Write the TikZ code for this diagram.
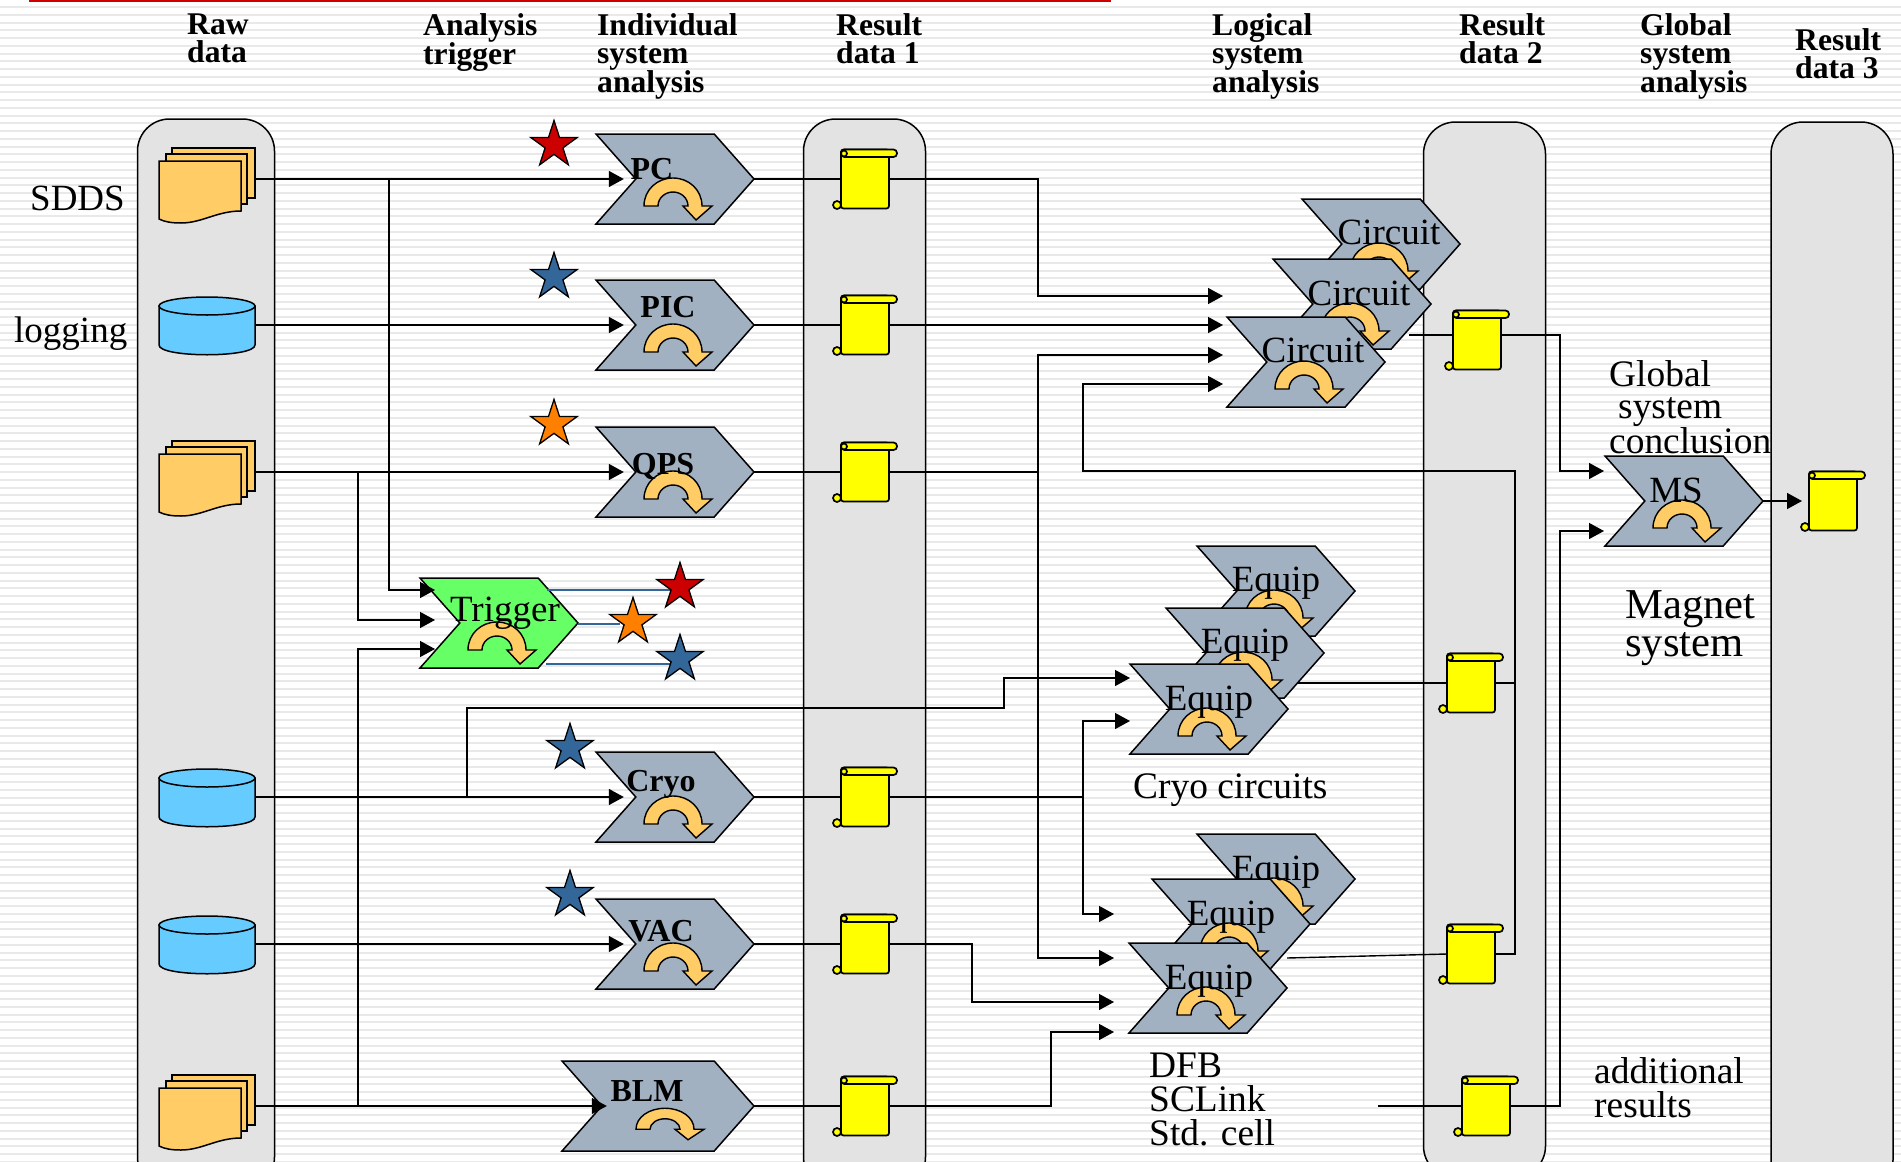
\documentclass[tikz,border=0pt]{standalone}
\usepackage{fontspec}
\setmainfont{Liberation Serif}
\usetikzlibrary{arrows.meta, shapes.geometric, shapes.symbols}
\definecolor{colgray}{HTML}{E3E3E3}
\definecolor{stripegray}{HTML}{E9E9E9}
\definecolor{chevgray}{HTML}{A2B1C1}
\definecolor{mygreen}{HTML}{66FF66}
\definecolor{myorange}{HTML}{FFCC66}
\definecolor{myblue}{HTML}{66CCFF}
\definecolor{myyellow}{HTML}{FFFF00}
\definecolor{starred}{HTML}{CC0000}
\definecolor{starblue}{HTML}{336699}
\definecolor{starorange}{HTML}{FF8000}
\tikzset{
	colbox/.style={
			rectangle,
			draw=black,
			line width=1.5pt,
			fill=colgray,
			rounded corners=32pt,
			minimum width=122pt,
			inner sep=0pt
		},
	chevnode/.style={
			signal,
			signal from=west,
			signal to=east,
			signal pointer angle=97,
			draw=black,
			line width=1.5pt,
			fill=chevgray,
			minimum width=158pt,
			minimum height=90pt,
			inner sep=0pt,
			outer sep=0pt
		},
	trignode/.style={
			chevnode,
			fill=mygreen
		},
	blmnode/.style={
			chevnode,
			minimum width=192pt
		},
	turnarrow/.style={
			draw=black,
			line width=1.4pt,
			fill=myorange
		},
	filebox/.style={
			rectangle,
			minimum width=96pt,
			minimum height=60pt,
			inner sep=0pt,
			outer sep=0pt
		},
	sheet/.style={
			draw=black,
			line width=1.5pt,
			fill=myorange
		},
	dbfill/.style={
			draw=black,
			line width=1.5pt,
			fill=myblue
		},
	scrollnode/.style={
			rectangle,
			draw=black,
			line width=1.7pt,
			fill=myyellow,
			rounded corners=2.5pt,
			minimum width=48pt,
			minimum height=59pt,
			inner sep=0pt,
			outer sep=0pt
		},
	rollpart/.style={
			draw=black,
			line width=1.7pt,
			fill=myyellow
		},
	wire/.style={
			draw=black,
			line width=1.4pt
		},
	conn/.style={
			wire,
			-{Triangle[length=15pt,width=16pt]}
		},
	bluewire/.style={
			draw=starblue,
			line width=1.4pt
		},
	starnode/.style={
			star,
			star points=5,
			star point ratio=2.618,
			draw=black,
			line width=1.3pt,
			minimum size=49pt,
			inner sep=0pt,
			outer sep=0pt
		},
	headtext/.style={
			anchor=north west,
			align=left,
			inner sep=0pt,
			font=\fontsize{31.6}{28}\selectfont\bfseries
		},
	plaintext/.style={
			anchor=north west,
			align=left,
			inner sep=0pt,
			font=\fontsize{37.4}{34}\selectfont
		},
	sidetext/.style={
			anchor=base west,
			inner sep=0pt,
			font=\fontsize{37}{33.5}\selectfont
		},
	magtext/.style={
			anchor=north west,
			align=left,
			inner sep=0pt,
			font=\fontsize{42.6}{38}\selectfont
		},
	boldlabel/.style={
			anchor=base,
			inner sep=0pt,
			font=\fontsize{32}{32}\selectfont\bfseries
		},
	plainlabel/.style={
			anchor=base,
			inner sep=0pt,
			font=\fontsize{37}{37}\selectfont
		},
	uturn/.pic={
			\draw[turnarrow] (-31,27) .. controls (-31,11) and (-18,-1) .. (-2,-1)
				.. controls (14,-1) and (27,11) .. (27,27) -- (37,27) -- (21,41) -- (8,27) -- (13,27)
				.. controls (13,19) and (6,13) .. (-2,13)
				.. controls (-10,13) and (-17,19) .. (-17,27) -- cycle;
		},
	sheets/.pic={
			\draw[sheet] (-35,-31) rectangle (48,19);
			\draw[sheet] (-41,-25) rectangle (40,25);
			\draw[sheet] (-48,-18) -- (34,-18) -- (34,32) .. controls (10,32) and (-5,44) .. (-26,44)
				.. controls (-35,44) and (-42,43) .. (-48,40) -- cycle;
		},
	barrel/.pic={
			\draw[dbfill] (-48,-19) -- (-48,20) .. controls (-48,33) and (48,33) .. (48,20) -- (48,-19) -- cycle;
			\draw[dbfill] (0,-19) ellipse (48 and 9);
		},
	rolls/.pic={
			\draw[rollpart, rounded corners=3.5pt] (-24,-29.5) rectangle (32,-22);
			\draw[rollpart] (-21,-25.5) circle (3);
			\draw[rollpart] (-28,26) circle (4);
		}
}
\NewDocumentCommand{\chevron}{O{chevnode} m m m m m}{%
	\node[#1] (#2) at (#3) {};
	\pic at (#2.center) {uturn};
	\node[#5] (#2text) at (#4) {#6};
}
\NewDocumentCommand{\filestack}{m m}{%
	\node[filebox] (#1) at (#2) {};
	\pic at (#1.center) {sheets};
}
\NewDocumentCommand{\database}{m m}{%
	\node[filebox] (#1) at (#2) {};
	\pic at (#1.center) {barrel};
}
\NewDocumentCommand{\scroll}{m m}{%
	\node[scrollnode] (#1) at (#2) {};
	\pic at (#1.center) {rolls};
}

\begin{document}
\begin{tikzpicture}[x=1pt, y=-1pt]
\useasboundingbox (0,0) rectangle (1901,1162);
\clip (0,0) rectangle (1901,1162);
\fill[white] (0,0) rectangle (1901,1162);

% stripes and the red bar
\foreach \k in {0,...,149}
	\draw[stripegray, line width=2pt] (0,{7+\k*7.75}) -- (1901,{7+\k*7.75});
\fill[starred] (29,0) rectangle (1111,2);

% columns
\node[colbox, minimum width=137pt, minimum height=1070pt] (colraw) at (206,654) {};
\node[colbox, minimum height=1070pt] (colone) at (864.5,654) {};
\node[colbox, minimum height=1056pt] (coltwo) at (1484.5,650) {};
\node[colbox, minimum height=1070pt] (colthree) at (1832,657) {};

% headers
\node[headtext] (hraw) at (187,14) {Raw\\data};
\node[headtext] (htrig) at (423,13) {Analysis\\trigger};
\node[headtext] (hind) at (597,13) {Individual\\system\\analysis};
\node[headtext] (hone) at (836,13) {Result\\data 1};
\node[headtext] (hlog) at (1212,13) {Logical\\system\\analysis};
\node[headtext] (htwo) at (1459,13) {Result\\data 2};
\node[headtext] (hglob) at (1640,13) {Global\\system\\analysis};
\node[headtext] (hthree) at (1795,28) {Result\\data 3};

% raw data
\filestack{file1}{207,179}
\database{db1}{207,325}
\filestack{file2}{207,472}
\database{db2}{207,797}
\database{db3}{207,944}
\filestack{file3}{207,1106}
\node[sidetext] (sdds) at (30,210) {SDDS};
\node[sidetext] (logg) at (14,342) {logging};

% individual systems
\chevron{chPC}{675,179}{652,179}{boldlabel}{PC}
\chevron{chPIC}{675,325}{668,317}{boldlabel}{PIC}
\chevron{chQPS}{675,472}{663,474}{boldlabel}{QPS}
\chevron{chCryo}{675,797}{661,791}{boldlabel}{Cryo}
\chevron{chVAC}{675,944}{661,941}{boldlabel}{VAC}
\node[blmnode] (chBLM) at (658,1106) {};
\pic[yscale=0.75] at (667,1109) {uturn};
\node[boldlabel] (chBLMtext) at (647,1101) {BLM};
\chevron[trignode]{chTrig}{499,623}{505,621}{plainlabel}{Trigger}

% circuits
\chevron{circA}{1381,244}{1389,244}{plainlabel}{Circuit}
\chevron{circB}{1352,304}{1359,305}{plainlabel}{Circuit}
\chevron{circC}{1306,362}{1313,362}{plainlabel}{Circuit}

% cryo equipment
\chevron{eqA}{1276,591}{1276,591}{plainlabel}{Equip}
\chevron{eqB}{1245,653}{1245,653}{plainlabel}{Equip}
\chevron{eqC}{1209,709}{1209,710}{plainlabel}{Equip}

% other equipment
\chevron{eqD}{1276,879}{1276,880}{plainlabel}{Equip}
\chevron{eqE}{1231,924}{1231,925}{plainlabel}{Equip}
\chevron{eqF}{1208,988}{1209,989}{plainlabel}{Equip}

\chevron{chMS}{1684,501}{1676,502}{plainlabel}{MS}

% scrolls
\scroll{scrPC}{865,179}
\scroll{scrPIC}{865,325}
\scroll{scrQPS}{865,472}
\scroll{scrCryo}{865,797}
\scroll{scrVAC}{865,944}
\scroll{scrBLM}{865,1106}
\scroll{scrCirc}{1477,340}
\scroll{scrEqA}{1471,683}
\scroll{scrEqB}{1471,954}
\scroll{scrAdd}{1486,1106}
\scroll{scrMS}{1833,501}

% free ends
\coordinate (trA) at (435,590);
\coordinate (trB) at (435,620);
\coordinate (trC) at (435,649);
\coordinate (inA) at (1223,296);
\coordinate (inB) at (1223,325);
\coordinate (inC) at (1223,355);
\coordinate (inD) at (1223,384);
\coordinate (inE) at (1130,678);
\coordinate (inF) at (1130,721);
\coordinate (inG) at (1114,914);
\coordinate (inH) at (1114,958);
\coordinate (inI) at (1114,1002);
\coordinate (inJ) at (1114,1032);
\coordinate (inMSa) at (1604,471);
\coordinate (inMSb) at (1604,531);
\coordinate (jPC) at (389,179);
\coordinate (jQPS) at (358,472);
\coordinate (jBLM) at (358,1106);
\coordinate (jCryo) at (467,797);
\coordinate (jOne) at (1038,472);
\coordinate (jTwo) at (1083,797);
\coordinate (outCirc) at (1409,335);
\coordinate (outEqA) at (1297,683);
\coordinate (outEqB) at (1287,958);
\coordinate (outAdd) at (1378,1106);

% raw data to analysis
\draw[conn, shorten >=12pt] (file1.east) -- (chPC.west);
\draw[conn, shorten >=12pt] (db1.east) -- (chPIC.west);
\draw[conn, shorten >=12pt] (file2.east) -- (chQPS.west);
\draw[conn, shorten >=12pt] (db2.east) -- (chCryo.west);
\draw[conn, shorten >=12pt] (db3.east) -- (chVAC.west);
\draw[conn, shorten >=-5pt] (file3.east) -- (chBLM.west);
\draw[conn] (jPC) |- (trA);
\draw[conn] (jQPS) |- (trB);
\draw[conn] (jBLM) |- (trC);
\draw[conn] (jCryo) |- (1004,708) |- (inE);

% analysis to scrolls
\foreach \a/\b in {chPC/scrPC, chPIC/scrPIC, chQPS/scrQPS, chCryo/scrCryo, chVAC/scrVAC, chBLM/scrBLM}
	\draw[wire] (\a.east) -- (\b.west);

% scrolls to the logical systems
\draw[conn] (scrPC.east) -| (1038,296) -- (inA);
\draw[conn] (scrPIC.east) -- (inB);
\draw[wire] (scrQPS.east) -- (jOne);
\draw[conn] (jOne) |- (inC);
\draw[conn] (jOne) |- (inH);
\draw[wire] (scrCryo.east) -- (jTwo);
\draw[conn] (jTwo) |- (inF);
\draw[conn] (jTwo) |- (inG);
\draw[conn] (scrVAC.east) -| (972,1002) -- (inI);
\draw[conn] (scrBLM.east) -| (1051,1032) -- (inJ);

% feedback from the equipment
\draw[wire] (outEqA) -- (scrEqA.west);
\draw[wire] (outEqB) -- (scrEqB.west);
\draw[wire] (scrEqA.east) -- (1515,683);
\draw[conn] (scrEqB.east) -| (1515,471) -- (1083,471) |- (inD);

% global analysis
\draw[wire] (outCirc) -- (outCirc -| scrCirc.west);
\draw[conn] (outCirc -| scrCirc.east) -| (1560,471) -- (inMSa);
\draw[wire] (outAdd) -- (scrAdd.west);
\draw[conn] (scrAdd.east) -| (1560,531) -- (inMSb);
\draw[conn, shorten >=7pt] (chMS.east) -- (scrMS.west);

% stars
\coordinate (blueA) at (547,590);
\coordinate (blueB) at (578,624);
\coordinate (blueC) at (546,664);
\node[starnode, fill=starred] (starPC) at (554,145) {};
\node[starnode, fill=starblue] (starPIC) at (554,277) {};
\node[starnode, fill=starorange] (starQPS) at (554,424) {};
\node[starnode, fill=starblue] (starCryo) at (570,748) {};
\node[starnode, fill=starblue] (starVAC) at (570,895) {};
\draw[bluewire] (blueA) -- (670,590) coordinate (endA);
\draw[bluewire] (blueB) -- (620,624) coordinate (endB);
\draw[bluewire] (blueC) -- (670,664) coordinate (endC);
\node[starnode, fill=starred] (starA) at (680,587) {};
\node[starnode, fill=starorange] (starB) at (633,622) {};
\node[starnode, fill=starblue] (starC) at (680,659) {};

% free texts
\node[plaintext, font=\fontsize{37.4}{32.5}\selectfont] (tglob) at (1609,360) {Global\\\hspace*{9pt}system\\conclusion};
\node[magtext] (tmag) at (1625,590) {Magnet\\system};
\node[plaintext] (tcryo) at (1133,774) {Cryo circuits};
\node[plaintext] (tdfb) at (1149,1053) {DFB\\SCLink\\Std. cell};
\node[plaintext] (tadd) at (1594,1057) {additional\\results};

\end{tikzpicture}
\end{document}
